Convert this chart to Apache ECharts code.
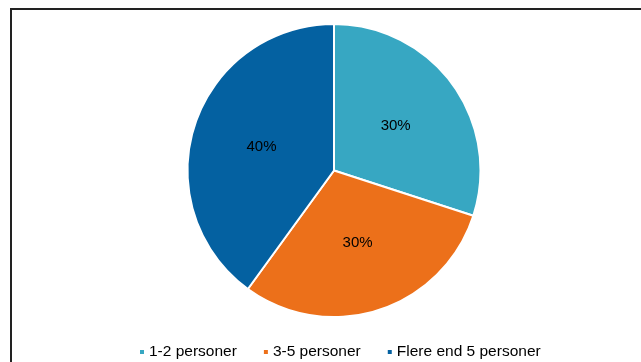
<!DOCTYPE html>
<html>
<head>
<meta charset="utf-8">
<script src="https://cdn.jsdelivr.net/npm/echarts@6/dist/echarts.min.js"></script>
<style>
    html, body { margin: 0; padding: 0; background: #fff; }
    #chart { width: 641px; height: 362px; }
</style>
</head>
<body>
<div id="chart"></div>
<script>
    // data
    var categories = ['1-2 personer', '3-5 personer', 'Flere end 5 personer'];
    var shares = [30, 30, 40];
    var colors = ['#37A7C2', '#EC701A', '#0461A1'];

    var chart = echarts.init(document.getElementById('chart'));

    var pieData = categories.map(function (name, i) {
        return {name: name, value: shares[i], itemStyle: {color: colors[i]}};
    });

    var option = {
        animation: false,
        backgroundColor: '#fff',
        textStyle: {fontFamily: 'Liberation Sans, Arial, sans-serif'},
        // frame round the plot area, cut off at right and bottom
        graphic: [{
            type: 'rect',
            shape: {x: 11, y: 9, width: 700, height: 400},
            style: {fill: 'none', stroke: '#222', lineWidth: 2}
        }],
        legend: {
            data: categories,
            top: 344,
            left: 138,
            padding: 0,
            icon: 'rect',
            itemWidth: 6,
            itemHeight: 6,
            itemGap: 25,
            textStyle: {fontSize: 15.5, lineHeight: 16, color: '#000', padding: [0, 0, 0, -1]}
        },
        series: [{
            type: 'pie',
            center: [334, 170.5],
            radius: 146.5,
            startAngle: 90,
            clockwise: true,
            data: pieData,
            itemStyle: {borderColor: '#fff', borderWidth: 2},
            label: {
                show: true,
                position: 'inside',
                formatter: '{c}%',
                fontSize: 15,
                color: '#000'
            },
            labelLine: {show: false},
            emphasis: {disabled: true}
        }]
    };

    chart.setOption(option);
</script>
</body>
</html>
